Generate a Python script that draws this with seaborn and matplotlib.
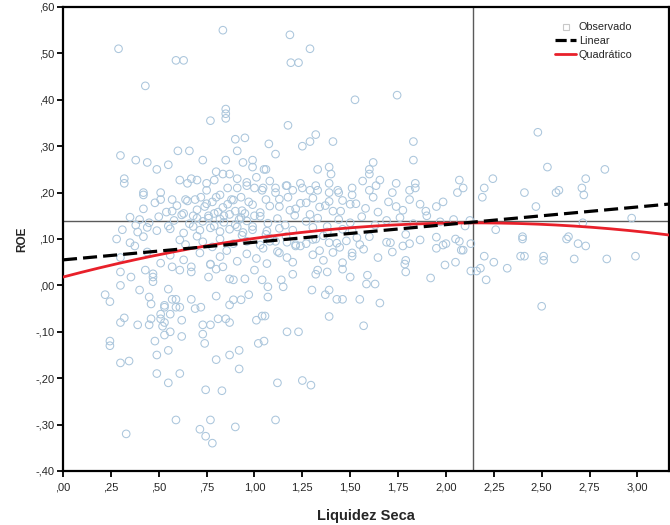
import numpy as np
import matplotlib
matplotlib.use("Agg")
import matplotlib.pyplot as plt
from matplotlib.lines import Line2D
import seaborn as sns

# ---------------- data ----------------
# high values (ROE > 0.25)
x_high = [0.29, 0.43, 0.59, 0.63, 0.835, 1.185, 1.29, 1.19, 1.23, 1.525, 1.745, 0.85, 0.85, 0.85, 0.77,
          0.90, 0.95, 0.30, 0.60, 0.66, 0.38, 0.44, 0.49, 0.55, 0.73, 0.85, 0.94, 0.99, 1.175, 1.075,
          1.11, 1.25, 1.29, 1.32, 1.41, 1.83, 1.83, 1.62, 1.60, 1.06, 0.91, 2.48, 2.53, 2.83]
y_high = [0.51, 0.43, 0.485, 0.485, 0.55, 0.54, 0.51, 0.48, 0.48, 0.40, 0.41, 0.38, 0.37, 0.36, 0.355,
          0.315, 0.318, 0.28, 0.29, 0.29, 0.27, 0.265, 0.25, 0.26, 0.27, 0.27, 0.265, 0.27, 0.345, 0.305,
          0.283, 0.30, 0.31, 0.325, 0.31, 0.31, 0.27, 0.265, 0.25, 0.25, 0.29, 0.33, 0.255, 0.25]

# band 0.18 - 0.25
x_b1 = [0.32, 0.32, 0.42, 0.42, 0.51, 0.51,
        0.99, 1.05, 1.01, 0.96, 0.91, 0.87, 0.835, 0.80, 0.79, 0.75, 0.70, 0.67, 0.65, 0.61,
        0.57, 0.64, 0.69, 0.75, 0.80, 0.86, 0.91, 0.96, 1.00, 1.04, 1.11, 1.17, 1.20, 1.25, 1.33, 1.39, 1.44, 1.51,
        1.60, 1.655, 1.33, 1.39, 1.40, 1.84, 1.84, 2.07, 2.06, 2.09,
        1.045, 1.08, 1.11, 1.165, 1.24, 1.29, 1.32, 1.39, 1.435, 1.51, 1.565, 1.60, 1.635, 1.72, 1.74, 1.81,
        2.245, 2.20, 2.19, 2.41, 2.575, 2.59, 2.71, 2.72, 2.73]
y_b1 = [0.23, 0.22, 0.20, 0.195, 0.20, 0.185,
        0.255, 0.25, 0.233, 0.222, 0.23, 0.24, 0.24, 0.245, 0.227, 0.22, 0.227, 0.23, 0.22, 0.227,
        0.185, 0.185, 0.185, 0.205, 0.19, 0.21, 0.21, 0.215, 0.21, 0.205, 0.21, 0.215, 0.205, 0.21, 0.205, 0.20, 0.20, 0.195,
        0.24, 0.227, 0.25, 0.255, 0.24, 0.22, 0.21, 0.227, 0.20, 0.21,
        0.21, 0.225, 0.20, 0.215, 0.22, 0.205, 0.215, 0.22, 0.205, 0.21, 0.225, 0.205, 0.215, 0.20, 0.22, 0.205,
        0.23, 0.21, 0.19, 0.20, 0.20, 0.205, 0.21, 0.195, 0.23]

# band 0.14 - 0.19
x_b2 = [0.42, 0.48, 0.54, 0.595, 0.65, 0.70, 0.75, 0.79, 0.835, 0.89, 0.935, 0.99, 1.03, 1.08, 1.13,
        1.185, 1.24, 1.29, 1.34, 1.39, 1.45, 1.50,
        1.06, 1.13, 1.175, 1.215, 1.27, 1.305, 1.37, 1.41, 1.46, 1.53, 1.58, 1.62, 1.645, 1.70, 1.74,
        1.775, 1.81, 1.865, 1.895, 1.95, 1.985,
        0.72, 0.78, 0.82, 0.88, 0.93, 0.97, 0.74, 0.84, 0.90, 0.95, 1.00, 0.86, 0.76, 0.81, 0.92, 0.68,
        0.63, 0.57, 2.47]
y_b2 = [0.165, 0.178, 0.158, 0.172, 0.182, 0.163, 0.176, 0.155, 0.168, 0.184, 0.161, 0.174, 0.157, 0.171, 0.186,
        0.162, 0.177, 0.153, 0.169, 0.181, 0.16, 0.175,
        0.185, 0.17, 0.19, 0.165, 0.178, 0.188, 0.172, 0.16, 0.183, 0.176, 0.166, 0.19, 0.158, 0.18, 0.17,
        0.162, 0.185, 0.175, 0.16, 0.17, 0.18,
        0.19, 0.18, 0.195, 0.185, 0.19, 0.18, 0.17, 0.15, 0.16, 0.155, 0.15, 0.175, 0.145, 0.158, 0.142, 0.15,
        0.155, 0.16, 0.17]

# band 0.11 - 0.155
x_b3 = [0.35, 0.38, 0.40, 0.45, 0.50, 0.55, 0.58, 0.62, 0.66, 0.70, 0.73, 0.76, 0.79, 0.82, 0.84, 0.87,
        0.90, 0.93, 0.96, 0.99, 1.03, 1.07, 1.12, 1.16, 1.21, 1.27, 1.33, 1.38, 1.44, 1.50, 1.56, 1.63,
        1.69, 1.76, 1.83, 1.90, 1.97, 2.04, 2.10, 2.125, 2.97, 2.715,
        0.31, 0.39, 0.44, 0.49, 0.56, 0.63, 0.68, 0.715, 0.77, 0.82, 0.87, 0.91, 0.94, 0.99, 1.065, 1.13,
        1.20, 1.305, 1.38, 1.46, 1.51]
y_b3 = [0.147, 0.13, 0.142, 0.135, 0.148, 0.128, 0.14, 0.152, 0.133, 0.145, 0.138, 0.15, 0.128, 0.143, 0.136, 0.153,
        0.131, 0.146, 0.139, 0.127, 0.149, 0.134, 0.144, 0.13, 0.151, 0.138, 0.145, 0.127, 0.142, 0.135, 0.148, 0.13,
        0.14, 0.146, 0.133, 0.15, 0.137, 0.142, 0.128, 0.14, 0.145, 0.135,
        0.12, 0.115, 0.125, 0.118, 0.122, 0.113, 0.127, 0.119, 0.124, 0.116, 0.121, 0.126, 0.114, 0.12, 0.117, 0.123,
        0.119, 0.125, 0.115, 0.121, 0.118]

# band 0.075 - 0.11
x_b4 = [0.28, 0.35, 0.375, 0.42, 0.61, 0.64, 0.70, 0.73, 0.78, 0.82, 0.89, 0.935, 0.96, 1.03, 1.08, 1.17,
        1.24, 1.305, 1.36, 1.43, 1.48, 1.535,
        1.06, 1.11, 1.165, 1.215, 1.32, 1.60, 1.71, 1.79, 1.865, 1.95, 2.00, 2.05,
        2.26, 2.40, 2.64, 2.40, 2.63, 2.69, 2.73, 2.13, 2.09]
y_b4 = [0.10, 0.092, 0.085, 0.105, 0.098, 0.088, 0.106, 0.094, 0.083, 0.10, 0.09, 0.108, 0.095, 0.087, 0.102, 0.093,
        0.085, 0.099, 0.107, 0.091, 0.096, 0.103,
        0.11, 0.095, 0.105, 0.088, 0.10, 0.105, 0.092, 0.11, 0.098, 0.104, 0.09, 0.10,
        0.12, 0.105, 0.105, 0.10, 0.10, 0.09, 0.085, 0.09, 0.076]

# band 0.04 - 0.095
x_b5 = [0.30, 0.44, 0.51, 0.56, 0.63, 0.715, 0.77, 0.82, 0.855, 0.91, 0.96, 1.01, 1.065, 1.12, 1.17, 1.20,
        1.305, 1.36, 1.41, 1.46, 1.51,
        1.045, 1.08, 1.13, 1.215, 1.27, 1.34, 1.39, 1.445, 1.51, 1.55, 1.57, 1.69, 1.72, 1.775, 1.81, 1.95,
        1.985, 2.07,
        2.20, 2.25, 2.18, 2.13, 2.16, 2.21, 2.32, 2.39, 2.41, 2.51, 2.51, 2.67, 2.84, 2.99, 2.50]
y_b5 = [0.06, 0.072, 0.048, 0.065, 0.055, 0.07, 0.045, 0.062, 0.075, 0.052, 0.068, 0.058, 0.047, 0.073, 0.06, 0.05,
        0.066, 0.054, 0.071, 0.049, 0.063,
        0.08, 0.095, 0.07, 0.085, 0.09, 0.075, 0.092, 0.082, 0.07, 0.088, 0.078, 0.093, 0.072, 0.085, 0.09, 0.08,
        0.087, 0.095,
        0.063, 0.05, 0.037, 0.031, 0.031, 0.012, 0.037, 0.063, 0.063, 0.063, 0.054, 0.057, 0.057, 0.063, -0.045]

# band -0.03 - 0.05
x_b6 = [0.355, 0.30, 0.43, 0.47, 0.47, 0.47, 0.55, 0.57, 0.61, 0.67, 0.67, 0.76, 0.77, 0.80, 0.835, 0.87, 0.89,
        0.95, 1.00, 1.04,
        1.20, 1.32, 1.33, 1.38, 1.46, 1.50, 1.59, 1.585, 1.63, 1.07, 1.07, 1.15, 1.14, 1.645, 1.79, 1.785,
        1.79, 1.92, 1.995, 2.05, 2.08]
y_b6 = [0.018, 0.029, 0.033, 0.018, 0.008, 0.025, -0.008, 0.04, 0.033, 0.04, 0.029, 0.018, 0.046, 0.035, 0.04, 0.014, 0.012,
        0.014, 0.033, 0.012,
        0.024, 0.024, 0.033, 0.029, 0.035, 0.018, 0.022, 0.003, 0.003, -0.025, -0.003, -0.003, 0.012, 0.06, 0.029, 0.046,
        0.054, 0.016, 0.044, 0.05, 0.076]

# negative values
x_neg = [0.22, 0.245, 0.30, 0.40, 0.45, 0.46, 0.53, 0.57, 0.59, 0.61, 0.67, 0.69, 0.72, 0.80, 0.87, 0.89, 0.93, 0.97,
         0.30, 0.32, 0.39, 0.45, 0.46, 0.51, 0.52, 0.53, 0.56, 0.62, 0.59, 0.53, 0.51,
         0.73, 0.77, 0.81, 0.85, 0.87, 1.01, 1.04, 0.53, 0.56, 0.74, 0.73, 0.62, 1.02, 1.05, 0.49, 0.55, 0.48,
         0.80, 0.87, 0.92, 0.92, 0.30, 0.345, 0.245, 0.245,
         0.49, 0.55, 0.61, 0.745, 0.83, 0.33, 0.59, 0.715, 0.77, 0.745, 0.78, 0.90,
         1.12, 1.25, 1.295, 1.11, 1.17, 1.23, 1.055, 1.39, 1.57, 1.655, 1.55, 1.30, 1.37, 1.39, 1.43, 1.46]
y_neg = [-0.02, -0.035, 0.0, -0.01, -0.025, -0.04, -0.043, -0.03, -0.03, -0.047, -0.03, -0.05, -0.047, -0.023, -0.042, -0.031, -0.031, -0.02,
         -0.08, -0.07, -0.085, -0.085, -0.072, -0.072, -0.088, -0.08, -0.062, -0.075, -0.047, -0.047, -0.062,
         -0.085, -0.085, -0.072, -0.072, -0.08, -0.075, -0.066, -0.107, -0.10, -0.125, -0.105, -0.11, -0.125, -0.12, -0.15, -0.14, -0.12,
         -0.16, -0.15, -0.14, -0.18, -0.167, -0.163, -0.12, -0.13,
         -0.19, -0.21, -0.19, -0.225, -0.227, -0.32, -0.29, -0.31, -0.29, -0.325, -0.34, -0.305,
         -0.21, -0.205, -0.215, -0.29, -0.10, -0.10, -0.066, -0.067, -0.087, -0.038, -0.03, -0.01, -0.02, -0.01, -0.03, -0.03]

# fitted curves (coefficients), reference lines
linear_coef = [0.055, 0.038]            # b0, b1
quad_coef = [0.018, 0.1087, -0.0253]    # b0, b1, b2
ref_x = 2.14
ref_y = 0.139

x_ticks = [0, 0.25, 0.5, 0.75, 1.0, 1.25, 1.5, 1.75, 2.0, 2.25, 2.5, 2.75, 3.0]
x_tick_labels = [",00", ",25", ",50", ",75", "1,00", "1,25", "1,50", "1,75", "2,00", "2,25", "2,50", "2,75", "3,00"]
y_ticks = [-0.4, -0.3, -0.2, -0.1, 0.0, 0.1, 0.2, 0.3, 0.4, 0.5, 0.6]
y_tick_labels = ["-,40", "-,30", "-,20", "-,10", ",00", ",10", ",20", ",30", ",40", ",50", ",60"]

liquidez = np.array(x_high + x_b1 + x_b2 + x_b3 + x_b4 + x_b5 + x_b6 + x_neg)
roe = np.array(y_high + y_b1 + y_b2 + y_b3 + y_b4 + y_b5 + y_b6 + y_neg)

# ---------------- plotting ----------------
sns.set_style("white")
plt.rcParams['font.family'] = ['Liberation Sans', 'DejaVu Sans']

fig = plt.figure(figsize=(6.7, 5.25), dpi=100)
ax = fig.add_axes([63 / 670, 1 - 471 / 525, 606 / 670, 464 / 525])

point_color = "#abc6dc"
sns.scatterplot(x=liquidez, y=roe, ax=ax, s=30, marker="o",
                facecolor="none", edgecolor=point_color, linewidth=0.75, zorder=2)
for coll in ax.collections:
    coll.set_facecolor("none")
    coll.set_edgecolor(point_color)

xmin, xmax = 0.0, 3.165
ax.set_xlim(xmin, xmax)
ax.set_ylim(-0.4, 0.6)

ax.axvline(ref_x, color="#5a5a5a", lw=1.0, zorder=1)
ax.axhline(ref_y, color="#5a5a5a", lw=1.0, zorder=1)

xs = np.linspace(xmin, xmax, 300)
y_lin = linear_coef[0] + linear_coef[1] * xs
y_quad = quad_coef[0] + quad_coef[1] * xs + quad_coef[2] * xs ** 2
sns.lineplot(x=xs, y=y_quad, ax=ax, color="#e8202a", lw=2.0, zorder=4)
sns.lineplot(x=xs, y=y_lin, ax=ax, color="black", lw=2.3, zorder=5)
ax.lines[-1].set_dashes((4.4, 1.9))

ax.set_xticks(x_ticks)
ax.set_xticklabels(x_tick_labels)
ax.set_yticks(y_ticks)
ax.set_yticklabels(y_tick_labels)
ax.tick_params(axis="x", pad=4)
ax.tick_params(axis="y", pad=2)
ax.tick_params(axis="both", direction="out", length=4, width=1.3, color="black",
               labelsize=8, bottom=True, left=True)

for s in ax.spines.values():
    s.set_color("black")
    s.set_linewidth(1.6)

ax.set_xlabel("Liquidez Seca", fontsize=10.5, fontweight="bold", labelpad=12)
ax.set_ylabel("ROE", fontsize=8.5, fontweight="bold", labelpad=5)

handles = [
    Line2D([0], [0], marker="s", linestyle="none", markerfacecolor="none",
           markeredgecolor="#c8c8c8", markersize=4.5, markeredgewidth=0.8),
    Line2D([0], [0], color="black", lw=2.3, dashes=(3.5, 1.2)),
    Line2D([0], [0], color="#e8202a", lw=2.0),
]
leg = ax.legend(handles, ["Observado", "Linear", "Quadrático"], loc="upper left",
                bbox_to_anchor=(0.800, 0.983), frameon=False, fontsize=7.8,
                handlelength=1.9, handletextpad=0.25, labelspacing=0.35, borderpad=0.2)

fig.savefig("out.png", dpi=100)
